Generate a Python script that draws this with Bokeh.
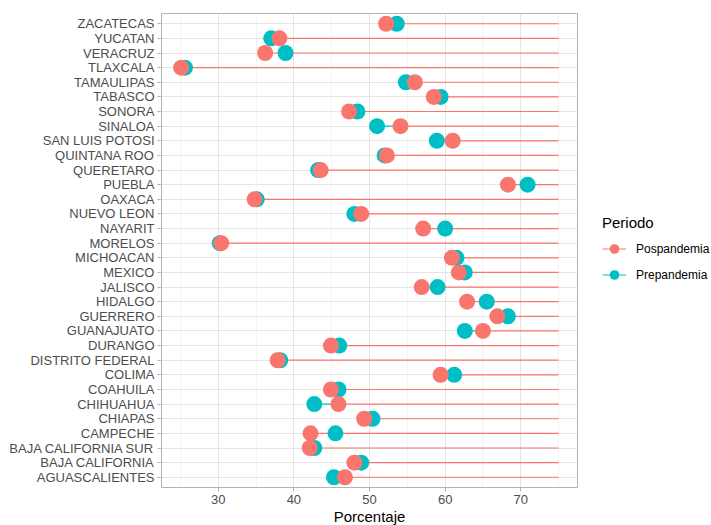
from bokeh.plotting import figure
from bokeh.models import (FactorRange, Range1d, FixedTicker, Legend, LegendItem,
                          ColumnDataSource)
from bokeh.embed import file_html
from bokeh.resources import INLINE

states = ["AGUASCALIENTES", "BAJA CALIFORNIA", "BAJA CALIFORNIA SUR", "CAMPECHE",
          "CHIAPAS", "CHIHUAHUA", "COAHUILA", "COLIMA", "DISTRITO FEDERAL", "DURANGO",
          "GUANAJUATO", "GUERRERO", "HIDALGO", "JALISCO", "MEXICO", "MICHOACAN",
          "MORELOS", "NAYARIT", "NUEVO LEON", "OAXACA", "PUEBLA", "QUERETARO",
          "QUINTANA ROO", "SAN LUIS POTOSI", "SINALOA", "SONORA", "TABASCO",
          "TAMAULIPAS", "TLAXCALA", "VERACRUZ", "YUCATAN", "ZACATECAS"]

pospandemia = [46.75, 48.0, 42.1, 42.2, 49.3, 45.9, 44.9, 59.4, 37.85, 44.9,
               65.0, 66.9, 62.9, 56.9, 61.8, 60.9, 30.4, 57.1, 48.9, 34.8,
               68.3, 43.55, 52.3, 61.0, 54.1, 47.3, 58.5, 56.0, 25.1, 36.2,
               38.1, 52.2]

prepandemia = [45.3, 48.9, 42.7, 45.5, 50.4, 42.7, 45.9, 61.2, 38.2, 46.0,
               62.6, 68.3, 65.5, 59.0, 62.6, 61.5, 30.2, 60.0, 48.0, 35.1,
               70.9, 43.2, 52.0, 58.9, 51.0, 48.4, 59.4, 54.8, 25.6, 38.9,
               37.0, 53.6]

segment_end = 75
series_names = ["Pospandemia", "Prepandemia"]
x_ticks = [30, 40, 50, 60, 70]
x_minor = [25, 35, 45, 55, 65, 75]

POS = "#F8766D"
PRE = "#00BFC4"
FONT = "Liberation Sans"

# the teal segment is hidden under the salmon one past the salmon point,
# so only its visible part (up to the later of the two points) is drawn
pre_end = [max(a, b) for a, b in zip(prepandemia, pospandemia)]

p = figure(width=711, height=525, output_backend="svg", toolbar_location=None,
           y_range=FactorRange(factors=states, range_padding=0.2,
                               range_padding_units="absolute"),
           x_range=Range1d(22.5, 77.5),
           frame_width=416, frame_height=474,
           min_border_left=161, min_border_top=13, min_border_bottom=38,
           min_border_right=10)

p.background_fill_color = "white"
p.border_fill_color = "white"
p.outline_line_color = "#B3B3B3"
p.outline_line_width = 1

src_pre = ColumnDataSource(dict(x=prepandemia, x1=pre_end, y=states))
src_pos = ColumnDataSource(dict(x=pospandemia, x1=[segment_end] * len(states),
                                y=states))

seg_pre = p.segment(x0="x", y0="y", x1="x1", y1="y", source=src_pre,
                    line_color=PRE, line_width=1.2)
seg_pos = p.segment(x0="x", y0="y", x1="x1", y1="y", source=src_pos,
                    line_color=POS, line_width=1.2)
pt_pre = p.scatter(x="x", y="y", source=src_pre, size=16, fill_color=PRE,
                   line_color=None)
pt_pos = p.scatter(x="x", y="y", source=src_pos, size=16, fill_color=POS,
                   line_color=None)

# grids
p.xaxis.ticker = FixedTicker(ticks=x_ticks, minor_ticks=x_minor)
p.xgrid.grid_line_color = "#DEDEDE"
p.xgrid.grid_line_width = 0.8
p.xgrid.minor_grid_line_color = "#EBEBEB"
p.xgrid.minor_grid_line_width = 0.6
p.ygrid.grid_line_color = "#DEDEDE"
p.ygrid.grid_line_width = 0.8

for ax in (p.xaxis[0], p.yaxis[0]):
    ax.axis_line_color = None
    ax.major_tick_line_color = "#B3B3B3"
    ax.major_tick_out = 4
    ax.major_tick_in = 0
    ax.minor_tick_line_color = None
    ax.major_label_text_font = FONT
    ax.major_label_text_font_size = "13px"
    ax.major_label_text_color = "#4D4D4D"
    ax.major_label_standoff = 3

p.xaxis.axis_label = "Porcentaje"
p.xaxis.axis_label_text_font = FONT
p.xaxis.axis_label_text_font_size = "15px"
p.xaxis.axis_label_text_font_style = "normal"
p.xaxis.axis_label_text_color = "black"
p.xaxis.axis_label_standoff = 1

legend = Legend(items=[
    LegendItem(label=series_names[0], renderers=[seg_pos, pt_pos]),
    LegendItem(label=series_names[1], renderers=[seg_pre, pt_pre]),
], location="left", orientation="vertical")
legend.title = "Periodo"
legend.title_text_font = FONT
legend.title_text_font_size = "15px"
legend.title_text_font_style = "normal"
legend.title_text_color = "black"
legend.title_standoff = 6
legend.label_text_font = FONT
legend.label_text_font_size = "12px"
legend.label_text_color = "black"
legend.glyph_width = 24
legend.glyph_height = 24
legend.label_standoff = 10
legend.spacing = 2
legend.padding = 0
legend.margin = 25
legend.border_line_color = None
legend.background_fill_alpha = 0
p.add_layout(legend, "right")

open("out.html", "w").write(file_html(p, INLINE))
